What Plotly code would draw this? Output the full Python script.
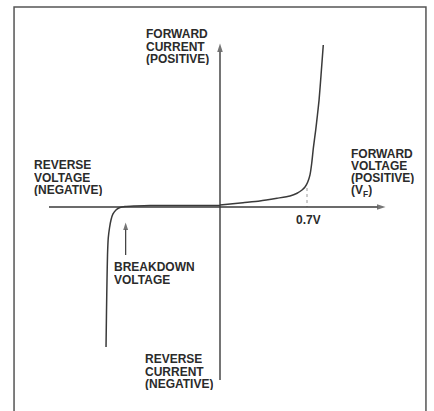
import plotly.graph_objects as go

# Diode I-V characteristic (schematic units: volts on x, arbitrary current on y)
fwd_v = [0.0, 0.185, 0.32, 0.459, 0.563, 0.62, 0.66, 0.684, 0.706, 0.724,
         0.738, 0.752, 0.77, 0.784, 0.797, 0.813, 0.831]
fwd_i = [1.2, 2.65, 3.7, 5.4, 6.8, 8.5, 10.5, 12.3, 15.4, 19.8,
         27.0, 37.0, 47.5, 56.8, 66.0, 81.5, 100.0]

rev_v = [0.0, -0.322, -0.563, -0.684, -0.764, -0.805, -0.837, -0.861, -0.877,
         -0.889, -0.899, -0.905, -0.909, -0.913, -0.917]
rev_i = [0.93, 0.93, 0.93, 0.62, 0.31, -0.31, -1.85, -4.3, -8.0,
         -12.96, -19.1, -29.6, -45.1, -63.6, -86.4]

knee_v = 0.7
knee_i = 11.7
breakdown_v = -0.759

fwd_current_lines = ["FORWARD", "CURRENT", "(POSITIVE)"]
fwd_voltage_lines = ["FORWARD", "VOLTAGE", "(POSITIVE)", "(V<sub>F</sub>)"]
rev_voltage_lines = ["REVERSE", "VOLTAGE", "(NEGATIVE)"]
breakdown_lines = ["BREAKDOWN", "VOLTAGE"]
rev_current_lines = ["REVERSE", "CURRENT", "(NEGATIVE)"]
knee_label = "0.7V"

X_RANGE = [-1.770, 1.7218]
Y_RANGE = [-125.93, 127.78]
LINE_STEP = 7.7

INK = "#3a3a3a"
TEXT = "#2b2b2b"
FONT = dict(family="Liberation Sans, Arial, sans-serif", size=12, color=TEXT)

fig = go.Figure()

curve_line = dict(color=INK, width=1.5, shape="spline", smoothing=0.6)
fig.add_trace(go.Scatter(x=fwd_v, y=fwd_i, mode="lines", line=curve_line, hoverinfo="skip"))
fig.add_trace(go.Scatter(x=rev_v, y=rev_i, mode="lines", line=curve_line, hoverinfo="skip"))
# dotted drop line from the knee to the voltage axis
fig.add_trace(go.Scatter(x=[knee_v, knee_v], y=[knee_i, 0], mode="lines",
                         line=dict(color="#9a9a9a", width=1, dash="dot"), hoverinfo="skip"))


def arrow_line(xs, ys, head=9, width=1.4):
    # straight line ending in an arrowhead oriented along the segment
    fig.add_trace(go.Scatter(x=xs, y=ys, mode="lines+markers", hoverinfo="skip",
                             line=dict(color=INK, width=width),
                             marker=dict(symbol="arrow", size=[0, head], angleref="previous",
                                         color=INK, line=dict(width=0))))


# axes with arrowheads
arrow_line([-1.376, 1.332], [0, 0])
arrow_line([0, 0], [-106.8, 100.9])
# breakdown pointer
arrow_line([breakdown_v, breakdown_v], [-29.6, -9.5], head=8, width=1.2)

annotations = []


def block(lines, x, y_first):
    # one annotation per line so the leading stays tight
    for k, line in enumerate(lines):
        annotations.append(dict(x=x, y=y_first - k * LINE_STEP, xref="x", yref="y",
                                text="<b>" + line + "</b>", showarrow=False, height=12,
                                xanchor="left", yanchor="middle", font=FONT, borderpad=0))


block(fwd_current_lines, -0.603, 106.7)
block(fwd_voltage_lines, 1.046, 33.0)
block(rev_voltage_lines, -1.502, 25.9)
block(breakdown_lines, -0.858, -37.3)
block(rev_current_lines, -0.611, -94.1)
annotations.append(dict(x=knee_v + 0.01, y=-8.2, xref="x", yref="y", text="<b>" + knee_label + "</b>",
                        showarrow=False, height=12, xanchor="center", yanchor="middle",
                        font=FONT, borderpad=0))

fig.update_layout(
    width=434, height=411,
    margin=dict(l=0, r=0, t=0, b=0),
    paper_bgcolor="white", plot_bgcolor="white",
    showlegend=False,
    xaxis=dict(range=X_RANGE, visible=False, fixedrange=True),
    yaxis=dict(range=Y_RANGE, visible=False, fixedrange=True),
    annotations=annotations,
    shapes=[dict(type="rect", xref="x", yref="y", x0=-1.657, x1=1.657, y0=-135, y1=123.46,
                 line=dict(color="#555555", width=1.5))],
)

fig.write_html("out.html")
